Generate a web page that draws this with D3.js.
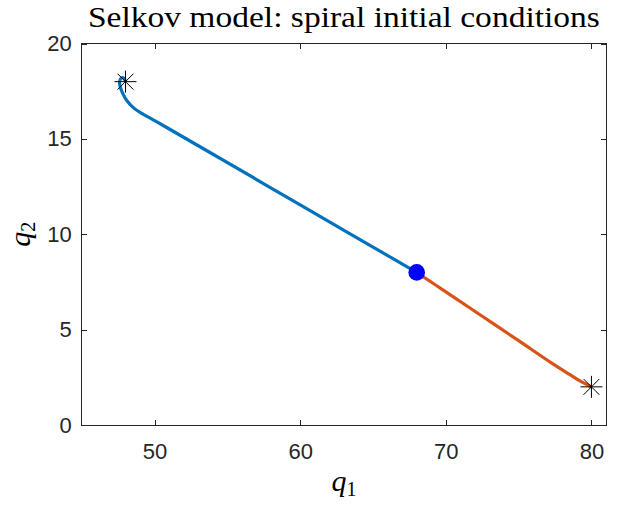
<!DOCTYPE html>
<meta charset="utf-8">
<style>
    body {
        margin: 0;
        background-color: #ffffff;
    }

    .axis text {
        font-family: "Liberation Sans", Arial, sans-serif;
        font-size: 22px;
        fill: #262626;
    }

    .axis line {
        stroke: #262626;
        stroke-width: 1px;
        shape-rendering: crispEdges;
    }

    .axis path {
        display: none;
    }

    .serif {
        font-family: "Liberation Serif", "Times New Roman", serif;
        fill: #000;
    }
</style>

<body>
    <svg width="633" height="506"></svg>
    <script src="https://d3js.org/d3.v7.min.js"></script>
    <script>
        // trajectory
        var blueQ1 = [48, 47.9, 47.72, 47.6, 47.64, 47.8, 48.1, 48.6, 49.2, 49.9, 50.8, 53, 60, 68];
        var blueQ2 = [18, 18.18, 18.2, 18.02, 17.72, 17.4, 17.0, 16.6, 16.3, 16.0, 15.61, 14.64, 11.54, 8];
        var orangeQ1 = [68, 70, 72.5, 75, 77.3, 78.5, 79.3, 80];
        var orangeQ2 = [8, 6.98, 5.7, 4.42, 3.23, 2.65, 2.27, 2];
        var starQ1 = [48, 80];
        var starQ2 = [18, 2];
        var dotQ1 = [68];
        var dotQ2 = [8];

        var xTicks = [50, 60, 70, 80];
        var yTicks = [0, 5, 10, 15, 20];

        var svg = d3.select("svg"),
            margin = {
                top: 43.5,
                right: 27,
                bottom: 81,
                left: 81.8
            },
            width = +svg.attr("width") - margin.left - margin.right,
            height = +svg.attr("height") - margin.top - margin.bottom;

        var x = d3.scaleLinear().domain([45, 81]).range([0, width]),
            y = d3.scaleLinear().domain([0, 20]).range([height, 0]);

        var g = svg.append("g")
            .attr("transform", "translate(" + margin.left + "," + margin.top + ")");

        // title
        svg.append("text")
            .attr("class", "serif")
            .attr("x", margin.left + width / 2)
            .attr("y", 27)
            .attr("text-anchor", "middle")
            .attr("textLength", 512)
            .attr("lengthAdjust", "spacingAndGlyphs")
            .style("font-size", "29px")
            .text("Selkov model: spiral initial conditions");

        // axes, ticks pointing inward
        g.append("g")
            .attr("class", "axis")
            .attr("transform", "translate(0," + height + ")")
            .call(d3.axisBottom(x).tickValues(xTicks).tickSizeInner(-5).tickSizeOuter(0).tickPadding(18));

        g.append("g")
            .attr("class", "axis")
            .call(d3.axisTop(x).tickValues(xTicks).tickSizeInner(-5).tickSizeOuter(0).tickFormat(""));

        g.append("g")
            .attr("class", "axis")
            .call(d3.axisLeft(y).tickValues(yTicks).tickSizeInner(-5).tickSizeOuter(0).tickPadding(10));

        g.append("g")
            .attr("class", "axis")
            .attr("transform", "translate(" + width + ",0)")
            .call(d3.axisRight(y).tickValues(yTicks).tickSizeInner(-5).tickSizeOuter(0).tickFormat(""));

        g.append("rect")
            .attr("width", width)
            .attr("height", height)
            .attr("fill", "none")
            .attr("stroke", "#262626")
            .attr("stroke-width", 1)
            .attr("shape-rendering", "crispEdges");

        // axis labels
        var xl = svg.append("text")
            .attr("class", "serif")
            .attr("x", margin.left + width / 2)
            .attr("y", 491)
            .attr("text-anchor", "middle");
        xl.append("tspan").style("font-size", "30px").style("font-style", "italic").text("q");
        xl.append("tspan").style("font-size", "20px").attr("dy", 5).text("1");

        var yl = svg.append("text")
            .attr("class", "serif")
            .attr("transform", "translate(30," + (margin.top + height / 2) + ") rotate(-90)")
            .attr("text-anchor", "middle");
        yl.append("tspan").style("font-size", "30px").style("font-style", "italic").text("q");
        yl.append("tspan").style("font-size", "20px").attr("dy", 5).text("2");

        var line = d3.line()
            .x(function (d) { return x(d[0]); })
            .y(function (d) { return y(d[1]); })
            .curve(d3.curveCatmullRom);

        g.append("path")
            .datum(d3.zip(blueQ1, blueQ2))
            .attr("d", line)
            .attr("fill", "none")
            .attr("stroke", "#0072BD")
            .attr("stroke-width", 3.2)
            .attr("stroke-linejoin", "round");

        g.append("path")
            .datum(d3.zip(orangeQ1, orangeQ2))
            .attr("d", line)
            .attr("fill", "none")
            .attr("stroke", "#D95319")
            .attr("stroke-width", 3.2)
            .attr("stroke-linejoin", "round");

        // asterisk markers
        var r = 11;
        var star = "M" + (-r) + ",0L" + r + ",0M0," + (-r) + "L0," + r +
            "M" + (-r * 0.72) + "," + (-r * 0.72) + "L" + (r * 0.72) + "," + (r * 0.72) +
            "M" + (-r * 0.72) + "," + (r * 0.72) + "L" + (r * 0.72) + "," + (-r * 0.72);

        g.selectAll(".star")
            .data(d3.zip(starQ1, starQ2))
            .enter().append("path")
            .attr("class", "star")
            .attr("transform", function (d) {
                return "translate(" + x(d[0]) + "," + y(d[1]) + ")";
            })
            .attr("d", star)
            .attr("fill", "none")
            .attr("stroke", "#000")
            .attr("stroke-width", 1);

        g.selectAll(".dot")
            .data(d3.zip(dotQ1, dotQ2))
            .enter().append("circle")
            .attr("class", "dot")
            .attr("cx", function (d) { return x(d[0]); })
            .attr("cy", function (d) { return y(d[1]); })
            .attr("r", 8.3)
            .attr("fill", "#0000FF");
    </script>
</body>
